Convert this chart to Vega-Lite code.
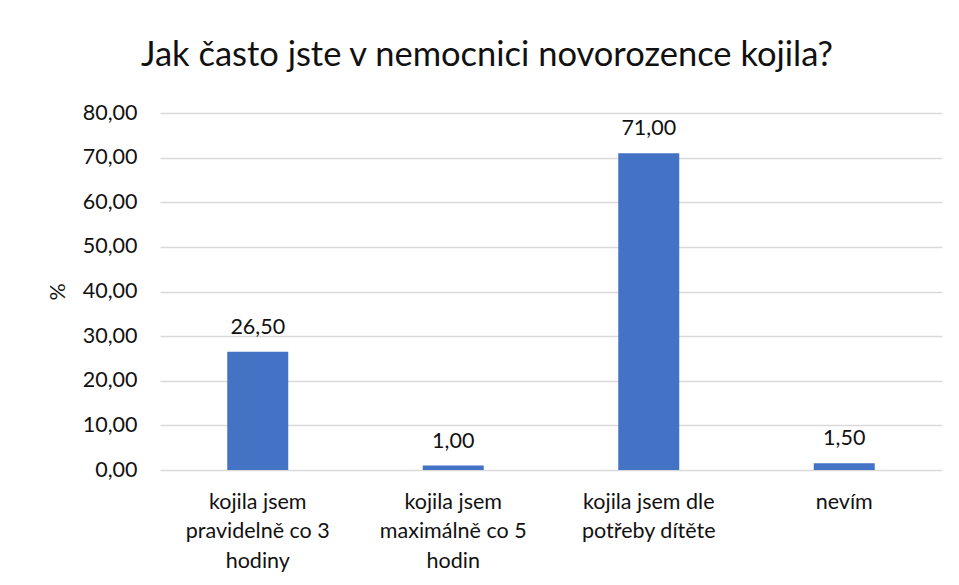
{
  "$schema": "https://vega.github.io/schema/vega-lite/v6.json",
  "autosize": {"type": "none"},
  "width": 782,
  "height": 357,
  "padding": {"left": 160, "top": 113, "right": 17, "bottom": 115},
  "background": "white",
  "title": {
    "text": "Jak často jste v nemocnici novorozence kojila?",
    "anchor": "middle",
    "dx": -64,
    "offset": 29,
    "font": "Lato",
    "fontSize": 34.5,
    "fontWeight": "normal",
    "color": "#111111"
  },
  "config": {
    "locale": {"number": {"decimal": ",", "thousands": " ", "grouping": [3], "currency": ["", " Kč"]}},
    "view": {"stroke": null},
    "font": "Lato"
  },
  "data": {
    "values": [
      {"kategorie": "kojila jsem|pravidelně co 3|hodiny", "procento": 26.5},
      {"kategorie": "kojila jsem|maximálně co 5|hodin", "procento": 1.0},
      {"kategorie": "kojila jsem dle|potřeby dítěte", "procento": 71.0},
      {"kategorie": "nevím", "procento": 1.5}
    ]
  },
  "encoding": {
    "x": {
      "field": "kategorie",
      "type": "nominal",
      "sort": null,
      "scale": {"paddingInner": 0.688, "paddingOuter": 0.344},
      "axis": {
        "title": null,
        "labelAngle": 0,
        "labelExpr": "split(datum.label, '|')",
        "labelFont": "Lato",
        "labelFontSize": 21.5,
        "labelColor": "#111111",
        "labelLineHeight": 29.5,
        "labelPadding": 21,
        "labelBaseline": "top",
        "ticks": false,
        "domain": false,
        "grid": false
      }
    },
    "y": {
      "field": "procento",
      "type": "quantitative",
      "scale": {"domain": [0, 80], "nice": false},
      "axis": {
        "title": "%",
        "titleFont": "Lato",
        "titleFontSize": 21.5,
        "titleFontWeight": "normal",
        "titleColor": "#111111",
        "titlePadding": 13,
        "values": [0, 10, 20, 30, 40, 50, 60, 70, 80],
        "format": ".2f",
        "labelFont": "Lato",
        "labelFontSize": 21.5,
        "labelColor": "#111111",
        "labelPadding": 23,
        "ticks": false,
        "domain": false,
        "grid": true,
        "gridColor": "#d9d9d9",
        "gridWidth": 1.3
      }
    }
  },
  "layer": [
    {"mark": {"type": "bar", "color": "#4472C4"}},
    {
      "mark": {"type": "text", "baseline": "alphabetic", "dy": -18, "font": "Lato", "fontSize": 21.5, "color": "#111111"},
      "encoding": {"text": {"field": "procento", "type": "quantitative", "format": ".2f"}}
    }
  ]
}
